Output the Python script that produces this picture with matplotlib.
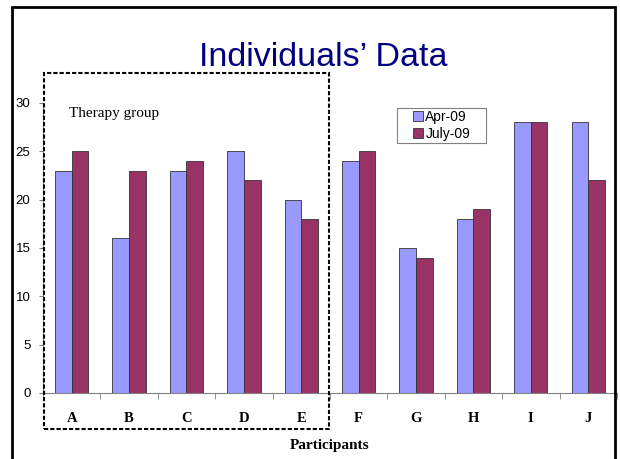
import matplotlib.pyplot as plt
import numpy as np
from matplotlib.patches import Rectangle

participants = ['A', 'B', 'C', 'D', 'E', 'F', 'G', 'H', 'I', 'J']
apr09 = [23, 16, 23, 25, 20, 24, 15, 18, 28, 28]
july09 = [25, 23, 24, 22, 18, 25, 14, 19, 28, 22]
yticks = [0, 5, 10, 15, 20, 25, 30]

fig = plt.figure(figsize=(6.2, 4.59), dpi=100)
ax = fig.add_axes([0.0694, 0.1438, 0.9256, 0.6318])

x = np.arange(len(participants))
w = 0.29
ax.bar(x - w/2, apr09, w, color='#9999FF', edgecolor='#333333', linewidth=0.6, label='Apr-09', zorder=2)
ax.bar(x + w/2, july09, w, color='#993366', edgecolor='#333333', linewidth=0.6, label='July-09', zorder=2)

ax.set_xlim(-0.5, len(participants) - 0.5)
ax.set_ylim(0, 30)
ax.set_yticks(yticks)
ax.set_yticklabels([str(v) for v in yticks], family='Liberation Sans', fontsize=9.5)
ax.tick_params(axis='y', length=3, color='#808080', pad=6)

# category labels, ticks between categories
ax.set_xticks(x)
ax.set_xticklabels(participants, family='Liberation Serif', fontweight='bold', fontsize=10.5)
ax.tick_params(axis='x', length=0, pad=14)
ax.set_xticks(np.arange(len(participants) + 1) - 0.5, minor=True)
ax.tick_params(axis='x', which='minor', length=4, color='#808080')

for s in ['top', 'right']:
    ax.spines[s].set_visible(False)
ax.spines['bottom'].set_color('#808080')
ax.spines['left'].set_color('#808080')

ax.set_xlabel('Participants', family='Liberation Serif', fontweight='bold', fontsize=11, labelpad=10)

# legend text without frame, box drawn separately
leg = ax.legend(loc='center left', bbox_to_anchor=(408/620, 1 - 125.5/459), bbox_transform=fig.transFigure,
                frameon=False, prop={'family': 'Liberation Sans', 'size': 10},
                handlelength=0.7, handleheight=0.7, handletextpad=0.2, borderpad=0.35,
                labelspacing=0.2, borderaxespad=0)
fig.patches.append(Rectangle((397/620, 1 - 143/459), 89/620, 35/459, transform=fig.transFigure,
                             fill=False, linewidth=0.8, edgecolor='#808080'))

# therapy group dashed box
fig.patches.append(Rectangle((44/620, 1 - 429/459), (329 - 44)/620, (429 - 73)/459,
                             transform=fig.transFigure, fill=False, linestyle=(0, (2, 1)),
                             linewidth=1.5, edgecolor='black', zorder=5))
fig.text(69/620, 1 - 113/459, 'Therapy group', family='Liberation Serif', fontsize=11, va='center')

fig.text(323/620, 1 - 57/459, 'Individuals\u2019 Data', family='Liberation Sans', fontsize=24.5,
         color='#000080', ha='center', va='center')

# slide border
fig.patches.append(Rectangle((12/620, -0.05), (615 - 12)/620, 1 - 7/459 + 0.05,
                             transform=fig.transFigure, fill=False, linewidth=2, edgecolor='black'))

fig.savefig('out.png', dpi=100)
